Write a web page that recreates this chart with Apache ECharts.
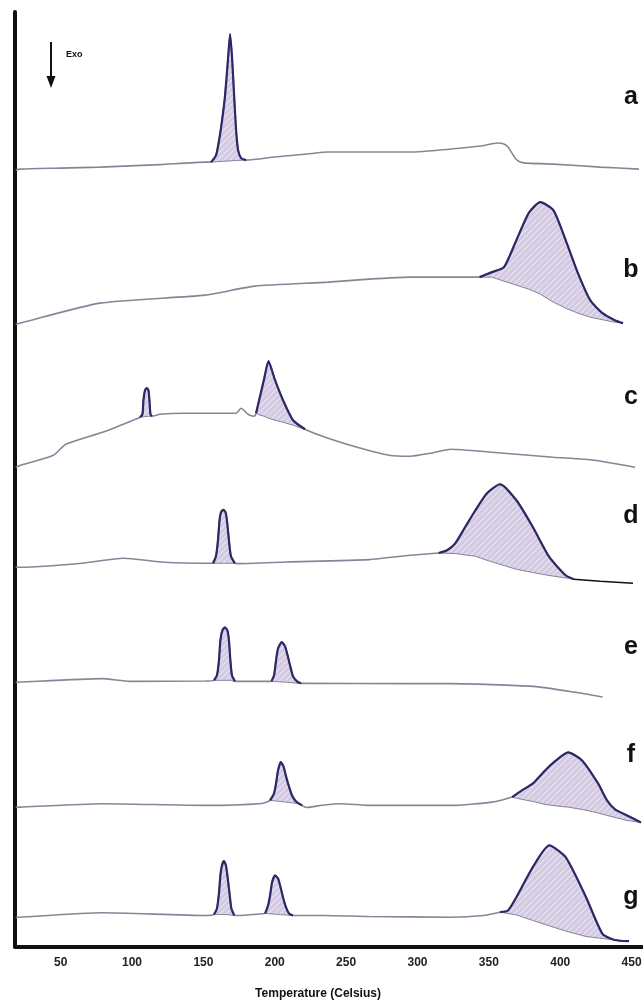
<!DOCTYPE html>
<html>
<head>
<meta charset="utf-8">
<script src="https://cdn.jsdelivr.net/npm/echarts@6/dist/echarts.min.js"></script>
<style>
html,body{margin:0;padding:0;background:#fff;}
#chart{width:643px;height:1000px;}
</style>
</head>
<body>
<div id="chart"></div>
<script>
// Temperature tick labels (Celsius)
const tickLabels = [50, 100, 150, 200, 250, 300, 350, 400, 450];
const curveNames = ['a', 'b', 'c', 'd', 'e', 'f', 'g'];

// Baseline segments: [temperature, heat flow (arb. units, stacked offsets)]
// Peaks: [temperature, signal, interpolated baseline]
const aSeg1 = [[18.5,776],[21.6,777],[50,778],[77.6,779],[119.6,781.5],[151.2,784],[155.4,784]];
const aPeak1 = [[155.4,784,784],[158.9,791,784.3],[161,806,784.5],[163.1,826,784.7],[165.2,851,784.9],[167.3,888,785.1],[168.7,912,785.2],[170.1,888,785.3],[171.5,851,785.5],[172.9,816,785.6],[174.3,796,785.7],[176.4,788,785.8],[179.9,786,786]];
const aSeg2 = [[179.9,786],[200,789],[222.6,792],[237.4,794],[294.8,794],[323.5,797],[343.8,800],[356.4,803],[360.6,802],[363.4,799],[366.2,793],[369,787],[372,784],[376,783],[395,782],[428,779],[455.2,777]];

const bSeg1 = [[18.5,622],[21.6,623],[77.6,643],[151.2,651],[185.8,660],[237.4,664],[266,667],[294.8,669],[343.5,669]];
const bPeak1 = [[343.5,669,669],[352.1,674,669],[360.6,679,665],[369.3,706,661],[377.9,733,657],[386,744,652],[395.2,736,644],[403.8,706,638],[412.4,673,633],[421,646,629],[429.6,633,626.4],[438.2,626,624],[444,623,623]];

const cSeg1 = [[18.5,479],[21.9,481],[44.9,491],[53.6,502],[79.3,514],[100.7,526],[105.6,529]];
const cPeak1 = [[105.6,529,529],[107.3,532,529.3],[108,546,529.5],[109.1,556,529.7],[110.3,558,529.8],[111.5,556,529.9],[112.2,546,530],[112.9,532,530],[114,530,530]];
const cSeg2 = [[114,530],[119.6,532],[136.5,533],[172.9,533],[176.4,538],[181.3,532],[185.5,530],[186.9,533]];
const cPeak2 = [[186.9,533,533],[189.7,550,531],[192.5,567,530],[195.6,585,528],[200.2,566,526],[205.8,546,524],[212.8,526,521],[221.2,517,517]];
const cSeg3 = [[221.2,517],[237.4,508],[257.7,499],[280.1,491],[294.8,490],[308.8,493],[323.5,497],[352.2,494],[395,489],[423.7,486],[452.4,479]];

const dSeg1 = [[18.5,379],[21.9,379],[65,383],[94,388],[122.5,384],[156.7,383]];
const dPeak1 = [[156.7,383,383],[158.8,390,383],[160.2,406,383],[161.3,426,383],[162.3,434,383],[163.9,436.5,383],[165.5,434,383],[166.5,426,383],[167.9,406,383],[169.3,390,383],[172.1,383,383]];
const dSeg2 = [[172.1,383],[174.6,382.7],[208.6,384.3],[266,386.7],[294.8,391],[314.8,393.3]];
const dPeak2 = [[314.8,393.3,393.3],[320.7,396,393],[326.3,402.7,392.8],[333.3,419,391.4],[340.6,436,390],[348.7,453,386],[357.8,462,382],[369.3,446,377],[380.8,419.3,373.8],[392.3,389.3,370.8],[403.8,371,368.4],[409.5,367,367]];
const dTail = [[409.5,367],[428,365],[451,363]];

const eSeg1 = [[18.5,264],[21.6,264.3],[79,267.7],[98.5,265],[151.2,265.3],[157.4,266]];
const ePeak1 = [[157.4,266,266],[159.5,271,266],[160.9,286,266],[161.9,306,266],[163.3,316,266],[165.1,319,266],[166.8,316,266],[167.9,306,266],[168.9,286,266],[170,271,265.5],[172.1,265,265]];
const eSeg2 = [[172.1,265],[174.3,265],[196.7,265],[197.7,265]];
const ePeak2 = [[197.7,265,265],[199.5,271,264.9],[200.9,286,264.8],[202.3,298,264.6],[204.9,304.3,264.4],[207.2,300,264.2],[209,291,264],[210.7,281,263.8],[212.8,270,263.5],[215.6,265,263.2],[218.4,263,263]];
const eSeg3 = [[218.4,263],[219.8,263],[294.8,262.7],[323.5,262.7],[381,260],[409.7,254.3],[429.6,249.3]];

const fSeg1 = [[18.5,139],[21.6,139.3],[79,142.7],[151.2,141],[191.1,143],[196.7,146]];
const fPeak1 = [[196.7,146,146],[199.5,153,145.6],[200.9,163,145.4],[202.3,176,145.2],[204.2,184.3,144.9],[206.1,180,144.6],[207.9,170,144.3],[209.7,161,144],[212.1,151,143.6],[214.9,145,143.2],[219.1,141,141]];
const fSeg2 = [[219.1,141],[221.9,139],[234.6,141.5],[245.8,142.7],[266.1,141],[323.5,141],[352.1,144.3],[366.3,149.3]];
const fPeak2 = [[366.3,149.3,149.3],[373.2,156,147],[380.9,163,145],[389.4,176,142],[397.1,186,140.5],[405.5,194,139.3],[415.3,186,137],[426.5,163,133.5],[432.8,146,131],[438.4,137,129],[446.8,131,126],[456.6,124,124]];

const gSeg1 = [[18.5,29],[21.6,29.3],[79,33.7],[151.2,31],[157.4,32]];
const gPeak1 = [[157.4,32,32],[159.5,38,32],[160.9,53,32],[161.9,71,32],[163,81,32],[164.4,85.3,32],[165.8,81,31.9],[166.8,71,31.8],[168.3,53,31.6],[169.6,38,31.4],[171.7,31,31]];
const gSeg2 = [[171.7,31],[174,31],[191.1,32.7],[193.2,33]];
const gPeak2 = [[193.2,33,33],[195.3,41,32.8],[196.7,51,32.7],[198.1,64,32.5],[200.2,71,32.3],[202.3,68,32.1],[204.1,59,31.9],[205.8,49,31.7],[207.9,39,31.5],[210,33,31.2],[212.8,31,31]];
const gSeg3 = [[212.8,31],[234.5,31],[266,30],[323.4,29.3],[346.3,31],[357.8,34.3]];
const gPeak3 = [[357.8,34.3,34.3],[363.4,36,33],[369.3,49.3,31.5],[380.8,79.3,26],[392.3,101,20.7],[403.8,89.3,15.4],[418.1,49.3,10],[429.6,12.7,8],[438.2,6.5,6.5],[448.2,5.3,5.3]];

const curves = [
  [aSeg1, aPeak1, aSeg2],
  [bSeg1, bPeak1],
  [cSeg1, cPeak1, cSeg2, cPeak2, cSeg3],
  [dSeg1, dPeak1, dSeg2, dPeak2],
  [eSeg1, ePeak1, eSeg2, ePeak2, eSeg3],
  [fSeg1, fPeak1, fSeg2, fPeak2],
  [gSeg1, gPeak1, gSeg2, gPeak2, gSeg3, gPeak3]
];
const peaks = [aPeak1, bPeak1, cPeak1, cPeak2, dPeak1, dPeak2, ePeak1, ePeak2, fPeak1, fPeak2, gPeak1, gPeak2, gPeak3];

// hatch pattern
const pc = document.createElement('canvas');
pc.width = 6; pc.height = 6;
const pctx = pc.getContext('2d');
pctx.fillStyle = '#d3c9e1';
pctx.fillRect(0, 0, 6, 6);
pctx.strokeStyle = '#e9e4f1';
pctx.lineWidth = 1.2;
pctx.beginPath();
pctx.moveTo(0, 6); pctx.lineTo(6, 0);
pctx.moveTo(-3, 3); pctx.lineTo(3, -3);
pctx.moveTo(3, 9); pctx.lineTo(9, 3);
pctx.stroke();
const hatch = {image: pc, repeat: 'repeat'};

const TRACE = '#8a8398';
const PEAK = '#2e2866';

function buildTrace(parts) {
  const out = [];
  parts.forEach(function (p) {
    p.forEach(function (pt) {
      if (out.length && out[out.length - 1][0] === pt[0]) return;
      out.push([pt[0], pt[1]]);
    });
  });
  return out;
}

const series = [];
peaks.forEach(function (pk, i) {
  series.push({
    type: 'custom',
    name: 'fill' + i,
    data: pk,
    dimensions: ['t', 'sig', 'base'],
    encode: {x: 0, y: [1, 2]},
    z: 1,
    silent: true,
    renderItem: function (params, api) {
      if (params.dataIndexInside !== 0) return null;
      const n = params.dataInsideLength;
      const top = [], bot = [];
      for (let k = 0; k < n; k++) {
        const t = api.value(0, k);
        top.push(api.coord([t, api.value(1, k)]));
        bot.push(api.coord([t, api.value(2, k)]));
      }
      return {
        type: 'polygon',
        shape: {points: top.concat(bot.reverse())},
        style: {fill: hatch}
      };
    }
  });
});
curves.forEach(function (parts, i) {
  series.push({
    type: 'line', name: curveNames[i], data: buildTrace(parts),
    symbol: 'none', smooth: 0.2, z: 2,
    lineStyle: {color: TRACE, width: 1.6}
  });
});
peaks.forEach(function (pk, i) {
  series.push({
    type: 'line', name: 'base' + i, data: pk.map(function (p) { return [p[0], p[2]]; }),
    symbol: 'none', z: 3,
    lineStyle: {color: TRACE, width: 1}
  });
  series.push({
    type: 'line', name: 'peak' + i, data: pk.map(function (p) { return [p[0], p[1]]; }),
    symbol: 'none', smooth: 0.2, z: 4,
    lineStyle: {color: PEAK, width: 2.2}
  });
});
series.push({
  type: 'line', name: 'dtail', data: dTail, symbol: 'none', z: 4,
  lineStyle: {color: '#111', width: 1.6}
});

const letterY = [97, 270, 397, 516, 647, 755, 897];
const graphics = curveNames.map(function (n, i) {
  return {type: 'text', x: 631, y: letterY[i], z: 10,
    style: {text: n, font: 'bold 25px "Liberation Sans", Arial, sans-serif', fill: '#111', textAlign: 'center', textVerticalAlign: 'middle'}};
});
graphics.push({type: 'line', z: 10, shape: {x1: 51, y1: 42, x2: 51, y2: 78}, style: {stroke: '#111', lineWidth: 2}});
graphics.push({type: 'polygon', z: 10, shape: {points: [[46.5, 76], [55.5, 76], [51, 88]]}, style: {fill: '#111'}});
graphics.push({type: 'text', z: 10, x: 66, y: 55,
  style: {text: 'Exo', font: 'bold 9px "Liberation Sans", Arial, sans-serif', fill: '#111', textAlign: 'left', textVerticalAlign: 'middle'}});

const chart = echarts.init(document.getElementById('chart'), null, {renderer: 'canvas'});
chart.setOption({
  animation: false,
  backgroundColor: '#fff',
  grid: {left: 15, right: 0, top: 12, bottom: 53.5, containLabel: false, outerBoundsMode: 'none'},
  xAxis: {
    type: 'value', min: 18, max: 458,
    name: 'Temperature (Celsius)', nameLocation: 'middle', nameGap: 41,
    nameTextStyle: {fontSize: 12, fontWeight: 'bold', color: '#111', fontFamily: '"Liberation Sans", Arial', padding: [0, 22, 0, 0]},
    axisLine: {show: true, onZero: false, lineStyle: {color: '#111', width: 4}},
    axisTick: {show: false},
    splitLine: {show: false},
    axisLabel: {customValues: tickLabels, margin: 10, fontSize: 12, fontWeight: 'bold', color: '#222', fontFamily: '"Liberation Sans", Arial'}
  },
  yAxis: {
    type: 'value', min: 0, max: 934,
    axisLine: {show: true, onZero: false, lineStyle: {color: '#111', width: 4}},
    axisTick: {show: false}, axisLabel: {show: false}, splitLine: {show: false}
  },
  graphic: graphics,
  series: series
});
</script>
</body>
</html>
